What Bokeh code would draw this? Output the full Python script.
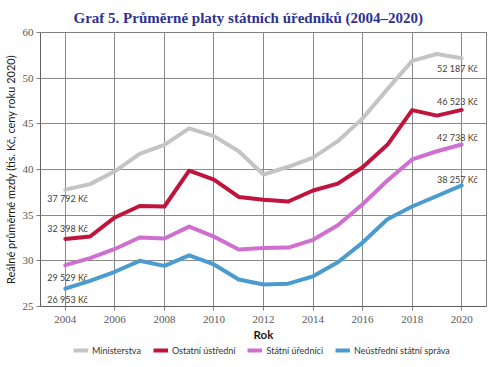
from bokeh.plotting import figure
from bokeh.layouts import column
from bokeh.models import Range1d, FixedTicker, Legend, LegendItem
from bokeh.core.properties import value
from bokeh.embed import file_html
from bokeh.resources import INLINE

# ---- data ----
years = list(range(2004, 2021))
ministerstva = [37.792, 38.4, 39.8, 41.7, 42.7, 44.5, 43.65, 42.0, 39.45, 40.3, 41.3, 43.1, 45.6, 48.8, 51.9, 52.65, 52.187]
ostatni_ustredni = [32.398, 32.66, 34.75, 36.0, 35.95, 39.87, 38.9, 37.0, 36.7, 36.5, 37.7, 38.45, 40.25, 42.7, 46.5, 45.9, 46.523]
statni_urednici = [29.529, 30.3, 31.3, 32.55, 32.45, 33.75, 32.65, 31.25, 31.4, 31.45, 32.3, 33.9, 36.2, 38.8, 41.1, 42.0, 42.738]
neustredni = [26.953, 27.8, 28.8, 30.0, 29.45, 30.6, 29.6, 27.95, 27.4, 27.5, 28.3, 29.85, 32.0, 34.55, 35.95, 37.1, 38.257]

series_names = ["Ministerstva", "Ostatní ústřední", "Státní úředníci", "Neústřední státní správa"]
start_labels = ["37 792 Kč", "32 398 Kč", "29 529 Kč", "26 953 Kč"]
end_labels = ["52 187 Kč", "46 523 Kč", "42 738 Kč", "38 257 Kč"]

x_ticks = list(range(2004, 2021, 2))
y_ticks = [25, 30, 35, 40, 45, 50, 55]
y_tick_labels = ["25", "30", "35", "40", "45", "50", "60"]

title = "Graf 5. Průměrné platy státních úředníků (2004–2020)"
y_title = "Reálné průměrné mzdy (tis. Kč, ceny roku 2020)"
x_title = "Rok"

# ---- styles ----
colors = ["#c4c4c4", "#c0143c", "#cf6fcf", "#4a9bd0"]
start_offsets = [9, -10, 12, 11]
end_offsets = [10, -8, -7, -6]

p = figure(frame_width=446, frame_height=274,
           x_range=Range1d(2003, 2021), y_range=Range1d(25, 55),
           output_backend="svg", toolbar_location=None,
           min_border_left=34, min_border_right=1, min_border_top=0, min_border_bottom=0)

p.title.text = title
p.title.align = "left"
p.title.text_font = "Liberation Serif"
p.title.text_font_style = "bold"
p.title.text_font_size = "15px"
p.title.text_color = "#2e3192"
p.title.offset = 33
p.title.standoff = 14

p.background_fill_color = "white"
p.border_fill_color = "white"
p.outline_line_color = "#808080"
p.outline_line_width = 1

p.xaxis.ticker = FixedTicker(ticks=x_ticks)
p.yaxis.ticker = FixedTicker(ticks=y_ticks)
p.yaxis.major_label_overrides = {t: l for t, l in zip(y_ticks, y_tick_labels)}
p.xgrid.ticker = FixedTicker(ticks=x_ticks)
p.ygrid.ticker = FixedTicker(ticks=y_ticks)
for g in (p.xgrid, p.ygrid):
    g.grid_line_color = "#8a8a8a"
    g.grid_line_width = 1

for ax in (p.xaxis, p.yaxis):
    ax.minor_tick_line_color = None
    ax.major_tick_out = 4
    ax.major_tick_in = 0
    ax.major_tick_line_color = "#808080"
    ax.axis_line_color = "#606060"
    ax.major_label_text_font = "Liberation Serif"
    ax.major_label_text_font_size = "11px"
    ax.major_label_text_color = "#595959"
    ax.axis_label_text_font = "Lato"
    ax.axis_label_text_color = "#1a1a1a"

p.xaxis.axis_label = x_title
p.xaxis.axis_label_text_font_style = "bold"
p.xaxis.axis_label_text_font_size = "11.5px"
p.xaxis.major_label_standoff = 5
p.xaxis.axis_label_standoff = 2

p.yaxis.axis_label = y_title
p.yaxis.axis_label_text_font_style = "normal"
p.yaxis.axis_label_text_font_size = "11px"
p.yaxis.major_label_standoff = 3
p.yaxis.axis_label_standoff = 3

all_series = [ministerstva, ostatni_ustredni, statni_urednici, neustredni]

# legend strip below the chart
p2 = figure(width=481, height=13,
            x_range=Range1d(2003, 2021), y_range=Range1d(1000, 1001),
            output_backend="svg", toolbar_location=None,
            x_axis_location=None, y_axis_location=None,
            min_border_left=0, min_border_right=0, min_border_top=0, min_border_bottom=0)
p2.outline_line_color = None
p2.xgrid.visible = False
p2.ygrid.visible = False
p2.background_fill_color = "white"
p2.border_fill_color = "white"

items = []
for name, vals, col, so, eo, sl, el in zip(series_names, all_series, colors,
                                           start_offsets, end_offsets, start_labels, end_labels):
    p.line(years, vals, line_color=col, line_width=4, line_join="round", line_cap="round")
    r2 = p2.line(years, vals, line_color=col, line_width=4)
    items.append(LegendItem(label=name, renderers=[r2]))
    p.text(x=[years[0]], y=[vals[0]], text=[sl], x_offset=-18, y_offset=so,
           text_align="left", text_baseline="middle",
           text_font=value("Lato"), text_font_size="9px", text_color="#404040")
    p.text(x=[years[-1]], y=[vals[-1]], text=[el], x_offset=16, y_offset=eo,
           text_align="right", text_baseline="middle",
           text_font=value("Lato"), text_font_size="9px", text_color="#404040")

legend = Legend(items=items, orientation="horizontal", location=(33, 0),
                border_line_color=None, background_fill_alpha=0,
                glyph_width=15, glyph_height=8, label_standoff=4, spacing=12,
                padding=0, margin=0, label_height=12,
                label_text_font="Lato", label_text_font_size="9px",
                label_text_color="#333333")
p2.add_layout(legend, "center")

layout = column(p, p2, spacing=0)
open("out.html", "w").write(file_html(layout, INLINE))
